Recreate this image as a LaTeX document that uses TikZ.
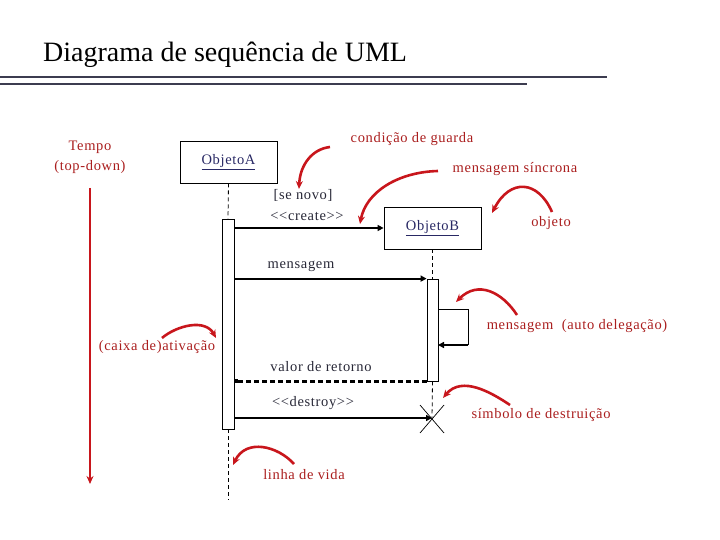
\documentclass[tikz,border=0pt]{standalone}
\usepackage{fontspec}
\setmainfont{Liberation Serif}
\newfontfamily\lblfont[LetterSpace=4.5]{Liberation Serif}
\usetikzlibrary{arrows.meta,calc}
\definecolor{annred}{RGB}{200,22,28}
\definecolor{anntext}{RGB}{170,30,30}
\definecolor{dark}{RGB}{40,40,55}
\definecolor{navy}{RGB}{40,40,100}
\definecolor{rule}{RGB}{60,60,80}
\tikzset{
  lbl/.style={font=\lblfont\fontsize{14.5}{16}\selectfont, text=dark, inner sep=0pt},
  ann/.style={font=\lblfont\fontsize{14.5}{16}\selectfont, text=anntext, inner sep=0pt},
  objbox/.style={draw, line width=0.8pt, minimum width=97, minimum height=42, inner sep=0pt, font=\lblfont\fontsize{14.5}{16}\selectfont, text=navy},
  actbox/.style={draw, line width=0.8pt, fill=white, inner sep=0pt},
  life/.style={line width=0.8pt, dash pattern=on 4pt off 3pt},
  msg/.style={line width=2.2pt, -{Triangle[length=6pt,width=6pt]}},
  retmsg/.style={line width=2.2pt, dash pattern=on 5pt off 3pt, -{Square[length=4pt,width=4pt]}},
  annarrow/.style={annred, line width=2.6pt, -{Stealth[length=8pt,width=7pt]}},
}
\begin{document}
\begin{tikzpicture}[x=1pt,y=-1pt]
\useasboundingbox (0,0) rectangle (720,540);
% title
\node[font=\fontsize{28}{32}\selectfont, anchor=base west, inner sep=0pt] (title) at (43,62) {Diagrama de sequência de UML};
\draw[rule, line width=1.2pt] (0,77) -- (607,77);
\draw[rule, line width=1.2pt] (0,84) -- (527,84);

% time
\node[ann, align=center] (tempo) at (90,157) {Tempo\\[4pt](top-down)};
\coordinate (t0) at (90,188);
\coordinate (t1) at (90,484);
\draw[annarrow] (t0) -- (t1);

% objects
\node[objbox] (objA) at (228.5,162) {\underline{ObjetoA}};
\node[objbox] (objB) at (432.5,228) {\underline{ObjetoB}};

% activations
\node[actbox, minimum width=12, minimum height=210] (actA) at (228,324) {};
\node[actbox, minimum width=11, minimum height=102] (actB) at (432.5,330) {};

% lifelines
\coordinate (X) at (432,418);
\coordinate (endA) at (228,500);
\draw[life] (objA.south) -- (actA.north);
\draw[life] (actA.south) -- (endA);
\draw[life] (objB.south) -- (actB.north);
\draw[life] (actB.south) -- (X);

% messages
\draw[msg] (actA.east |- objB.west) -- (objB.west);
\node[lbl] (guard) at (303,195) {[se novo]};
\node[lbl] (create) at (307,216) {<<create>>};

\draw[msg] (actA.east |- actB.north) -- (actB.north west);
\node[lbl] (msgl) at (301,266) {mensagem};

\coordinate (s0) at (438,309);
\coordinate (s1) at (468,309);
\coordinate (s2) at (468,345);
\coordinate (s3) at (438,345);
\draw[line width=0.8pt] (s0) -- (s1) -- (s2);
\draw[msg] (s2) -- (s3);

\draw[retmsg] (actB.south west) -- (actA.east |- actB.south);
\node[lbl] (retl) at (321,367) {valor de retorno};

\draw[msg] (actA.east |- X) -- (X);
\node[lbl] (destl) at (313,403) {<<destroy>>};
\coordinate (xa) at (420,405);
\coordinate (xb) at (444,433);
\coordinate (xc) at (444,405);
\coordinate (xd) at (420,433);
\draw[line width=0.7pt] (xa) -- (xb);
\draw[line width=0.7pt] (xc) -- (xd);

% annotations
\node[ann] (cond) at (412,139) {condição de guarda};
\coordinate (c0) at (330,147);
\coordinate (c1) at (299,189);
\draw[annarrow] (c0) .. controls (312,149) and (300,165) .. (c1);

\node[ann] (sinc) at (515,169) {mensagem síncrona};
\coordinate (m0) at (438,171);
\coordinate (m1) at (360,224);
\draw[annarrow] (m0) .. controls (398,172) and (366,192) .. (m1);

\node[ann] (objl) at (551,223) {objeto};
\coordinate (o0) at (552,212);
\coordinate (o1) at (492,213);
\draw[annarrow] (o0) .. controls (538,180) and (510,178) .. (o1);

\node[ann] (auto) at (577,326) {mensagem\ \ (auto delegação)};
\coordinate (a0) at (517,315);
\coordinate (a1) at (456,302);
\draw[annarrow] (a0) .. controls (502,292) and (478,280) .. (a1);

\node[ann] (dest) at (541,415) {símbolo de destruição};
\coordinate (d0) at (510,405);
\coordinate (d1) at (443,398);
\draw[annarrow] (d0) .. controls (492,393) and (462,375) .. (d1);

\node[ann] (ativ) at (157,347) {(caixa de)ativação};
\coordinate (v0) at (162,338);
\coordinate (v1) at (216,338);
\draw[annarrow] (v0) .. controls (176,326) and (205,318) .. (v1);

\node[ann] (vida) at (304,475) {linha de vida};
\coordinate (l0) at (294,464);
\coordinate (l1) at (233,465);
\draw[annarrow] (l0) .. controls (278,446) and (246,438) .. (l1);
\end{tikzpicture}
\end{document}
